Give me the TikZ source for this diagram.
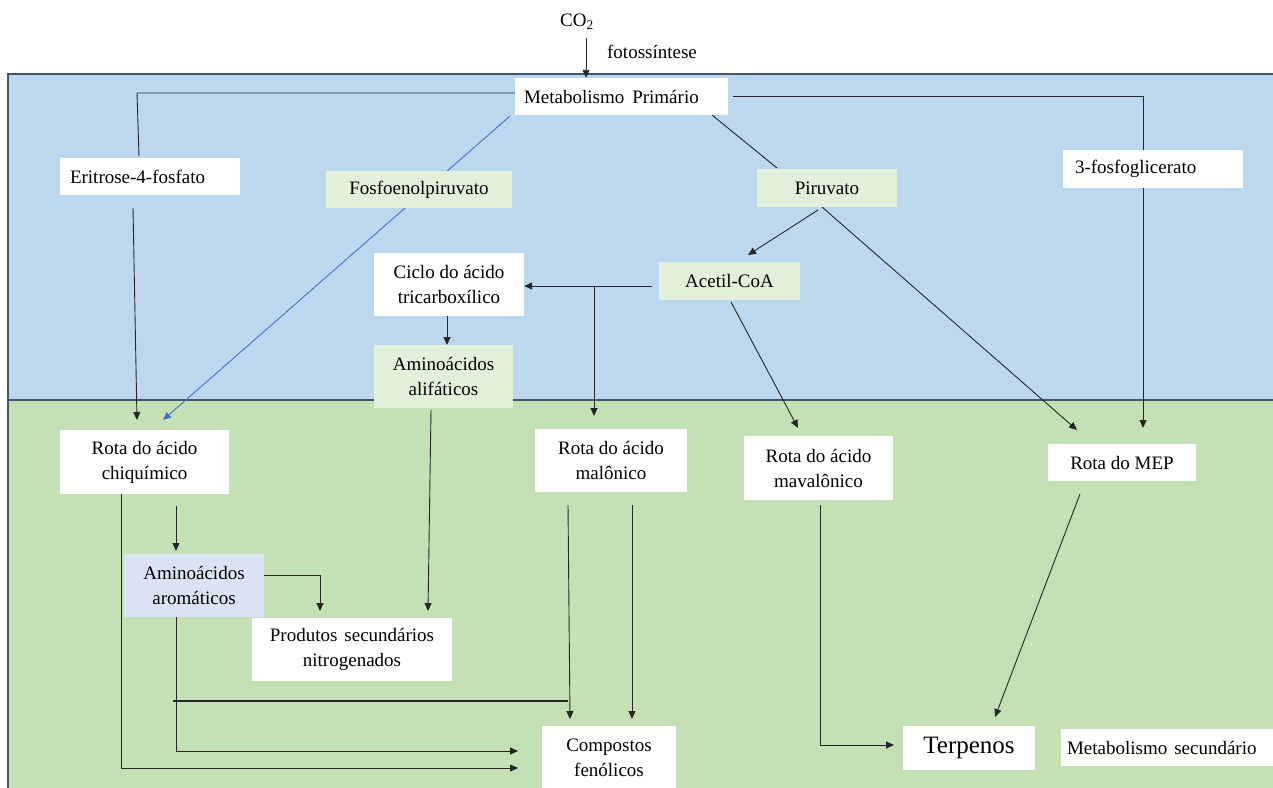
\documentclass[tikz,border=0pt]{standalone}
\usepackage{fontspec}
\setmainfont{Liberation Serif}
\usetikzlibrary{arrows.meta}
\definecolor{bluebg}{HTML}{BDD7EE}
\definecolor{greenbg}{HTML}{C5E0B4}
\definecolor{lgreen}{HTML}{E2F0D9}
\definecolor{lblue}{HTML}{DAE3F3}
\definecolor{framec}{HTML}{44546A}
\definecolor{connc}{HTML}{262626}
\definecolor{blinec}{HTML}{4472C4}
\pgfdeclarelayer{bg}
\pgfsetlayers{bg,main}
\begin{document}
\begin{tikzpicture}[x=1pt,y=-1pt,
  box/.style={inner sep=0pt, font=\fontsize{19}{25}\selectfont, align=center},
  wbox/.style={box, fill=white},
  gbox/.style={box, fill=lgreen},
  bbox/.style={box, fill=lblue},
  conn/.style={draw=connc, line width=0.9pt},
  arr/.style={conn, -{Triangle[length=8pt,width=7pt]}},
  barr/.style={draw=blinec, line width=0.9pt, -{Triangle[length=8pt,width=7pt]}},
]
\useasboundingbox (0,0) rectangle (1273,787);
\begin{pgfonlayer}{bg}
\fill[white] (0,0) rectangle (1273,787);
\filldraw[fill=bluebg, draw=framec, line width=1.5pt] (8,74) rectangle (1290,400);
\filldraw[fill=greenbg, draw=framec, line width=1.5pt] (8,400) rectangle (1290,800);
\end{pgfonlayer}

% texts at top
\node[box] (co2) at (577,22) {CO\textsubscript{2}};
\node[box] (foto) at (652,52) {fotossíntese};

% nodes
\node[wbox, minimum width=213pt, minimum height=37pt, text width=195pt, align=left] (mp) at (621.5,96.5) {Metabolismo\hspace{8pt}Primário};
\node[wbox, minimum width=180pt, minimum height=37pt, text width=160pt, align=left] (ery) at (150,176.5) {Eritrose-4-fosfato};
\node[gbox, minimum width=186pt, minimum height=37pt] (fep) at (419,189.5) {Fosfoenolpiruvato};
\node[gbox, minimum width=140pt, minimum height=38pt] (pir) at (827,188) {Piruvato};
\node[wbox, minimum width=180pt, minimum height=38pt, text width=156pt, align=left] (fosg) at (1153,169) {3-fosfoglicerato};
\node[gbox, minimum width=141pt, minimum height=38pt] (acoa) at (729.5,281) {Acetil-CoA};
\node[wbox, minimum width=150pt, minimum height=63pt] (ciclo) at (449,284.5) {Ciclo do ácido\\tricarboxílico};
\node[gbox, minimum width=139pt, minimum height=63pt] (alif) at (443.5,376.5) {Aminoácidos\\alifáticos};
\node[wbox, minimum width=169pt, minimum height=64pt] (chiq) at (144.5,462) {Rota do ácido\\chiquímico};
\node[bbox, minimum width=140pt, minimum height=63pt] (arom) at (194,585.5) {Aminoácidos\\aromáticos};
\node[wbox, minimum width=200pt, minimum height=63pt] (prod) at (352,649.5) {Produtos\hspace{7pt}secundários\\nitrogenados};
\node[wbox, minimum width=152pt, minimum height=63pt] (malo) at (611,460.5) {Rota do ácido\\malônico};
\node[wbox, minimum width=149pt, minimum height=64pt] (mava) at (818.5,468) {Rota do ácido\\mavalônico};
\node[wbox, minimum width=148pt, minimum height=37pt] (mep) at (1122,462.5) {Rota do MEP};
\node[wbox, minimum width=134pt, minimum height=64pt] (comp) at (609,758) {Compostos\\fenólicos};
\node[wbox, minimum width=132pt, minimum height=44pt, font=\fontsize{25}{30}\selectfont] (terp) at (969,748) {Terpenos};
\node[wbox, minimum width=212pt, minimum height=37pt, text width=200pt, align=left] (msec) at (1167,747.5) {Metabolismo\hspace{7pt}secundário};

% named coordinates for bends and free ends
\coordinate (a0) at (586,38);
\coordinate (k1) at (137,93);
\coordinate (k2) at (139,156);
\coordinate (k3) at (133,208);
\coordinate (k4) at (137,420);
\coordinate (b1) at (510,116);
\coordinate (b2) at (163,420);
\coordinate (r1) at (1143,96);
\coordinate (r2) at (1143,428);
\coordinate (p1) at (712,115);
\coordinate (p2) at (777,168);
\coordinate (p3) at (818,210);
\coordinate (p4) at (748,255);
\coordinate (p5) at (822,207);
\coordinate (p6) at (1077,430);
\coordinate (c1) at (652,286);
\coordinate (c2) at (594,286);
\coordinate (c3) at (594,416);
\coordinate (m1) at (731,302);
\coordinate (m2) at (798,428);
\coordinate (t1) at (447,345);
\coordinate (l1) at (431,410);
\coordinate (l2) at (428,611);
\coordinate (s1) at (176,506);
\coordinate (s2) at (176,551);
\coordinate (s3) at (121,494);
\coordinate (s4) at (121,768);
\coordinate (s5) at (518,768);
\coordinate (q1) at (320,575);
\coordinate (q2) at (320,611);
\coordinate (q3) at (176,617);
\coordinate (q4) at (176,751);
\coordinate (q5) at (518,751);
\coordinate (n1) at (568,505);
\coordinate (n2) at (570,719);
\coordinate (n3) at (173,701);
\coordinate (n4) at (632,505);
\coordinate (n5) at (632,719);
\coordinate (v1) at (820,505);
\coordinate (v2) at (820,745);
\coordinate (v3) at (894,745);
\coordinate (e1) at (1080,494);
\coordinate (e2) at (995,717);

\begin{pgfonlayer}{bg}
\draw[arr] (a0) -- (a0 |- mp.north);
\draw[conn] (mp.west |- k1) -- (k1) -- (k2);
\draw[arr] (k3) -- (k4);
\draw[barr] (b1) -- (b2);
\draw[arr] ([xshift=5pt]mp.east |- r1) -- (r1) -- (r2);
\draw[conn] (p1) -- (p2);
\draw[arr] (p3) -- (p4);
\draw[arr] (p5) -- (p6);
\draw[arr] (c1) -- (ciclo.east |- c1);
\draw[arr] (c2) -- (c3);
\draw[arr] (m1) -- (m2);
\draw[arr] (ciclo.south -| t1) -- (t1);
\draw[arr] (l1) -- (l2);
\draw[arr] (s1) -- (s2);
\draw[arr] (s3) -- (s4) -- (s5);
\draw[arr] (arom.east |- q1) -- (q1) -- (q2);
\draw[arr] (q3) -- (q4) -- (q5);
\draw[arr] (n1) -- (n2);
\draw[conn, line width=1.4pt] (n3) -- (n1 |- n3);
\draw[arr] (n4) -- (n5);
\draw[arr] (v1) -- (v2) -- (v3);
\draw[arr] (e1) -- (e2);
\end{pgfonlayer}
\end{tikzpicture}
\end{document}
